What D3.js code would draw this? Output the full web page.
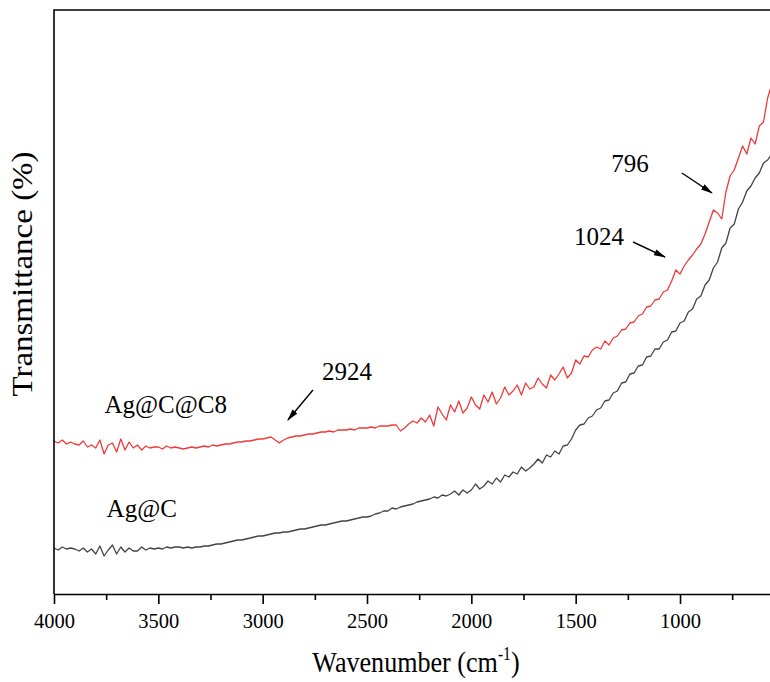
<!DOCTYPE html>
<html lang="en">
<head>
  <meta charset="UTF-8" />
  <title>FTIR spectra</title>
  <script src="https://d3js.org/d3.v7.min.js"></script>
  <style>
    html, body { margin: 0; background: #fff; }
    svg { display: block; font-family: "Liberation Serif", "Times New Roman", serif; }
    .frame { stroke: #000; stroke-width: 1.6px; fill: none; }
    .axis path, .axis line { stroke: #000; stroke-width: 1.6px; }
    .axis text { font-size: 20.5px; fill: #000; font-family: "Liberation Serif", serif; }
    .spec { fill: none; stroke-width: 1.3px; stroke-linejoin: round; }
    .note { font-size: 25px; fill: #000; }
  </style>
</head>
<body>
  <svg id="chart" width="770" height="682"></svg>

  <script>
    // ----- data -----
    const wavenumber = [
      4000, 3980, 3960, 3940, 3920, 3900, 3880, 3860, 3840, 3820,
      3800, 3780, 3760, 3740, 3720, 3700, 3680, 3660, 3640, 3620,
      3600, 3580, 3560, 3540, 3520, 3500, 3480, 3460, 3440, 3420,
      3400, 3380, 3360, 3340, 3320, 3300, 3280, 3260, 3240, 3220,
      3200, 3180, 3160, 3140, 3120, 3100, 3080, 3060, 3040, 3020,
      3000, 2980, 2960, 2940, 2920, 2900, 2880, 2860, 2840, 2820,
      2800, 2780, 2760, 2740, 2720, 2700, 2680, 2660, 2640, 2620,
      2600, 2580, 2560, 2540, 2520, 2500, 2480, 2460, 2440, 2420,
      2400, 2380, 2360, 2340, 2320, 2300, 2280, 2260, 2240, 2220,
      2200, 2180, 2160, 2140, 2120, 2100, 2080, 2060, 2040, 2020,
      2000, 1980, 1960, 1940, 1920, 1900, 1880, 1860, 1840, 1820,
      1800, 1780, 1760, 1740, 1720, 1700, 1680, 1660, 1640, 1620,
      1600, 1580, 1560, 1540, 1520, 1500, 1480, 1460, 1440, 1420,
      1400, 1380, 1360, 1340, 1320, 1300, 1280, 1260, 1240, 1220,
      1200, 1180, 1160, 1140, 1120, 1100, 1080, 1060, 1040, 1020,
      1000, 980, 960, 940, 920, 900, 880, 860, 840, 820,
      800, 780, 760, 740, 720, 700, 680, 660, 640, 620,
      600, 580, 560
    ];

    // Ag@C@C8 (red)
    const agcc8 = [
      15.3, 15.1, 15.4, 15.0, 15.2, 15.0, 14.9, 15.3, 14.7, 14.9,
      14.6, 15.4, 14.0, 14.9, 15.1, 14.2, 15.5, 14.4, 15.2, 14.6,
      14.9, 14.4, 14.8, 14.6, 14.7, 14.7, 14.5, 14.8, 14.6, 14.7,
      14.6, 14.5, 14.6, 14.7, 14.6, 14.7, 14.8, 14.7, 14.9, 14.8,
      14.9, 15.0, 15.0, 15.1, 15.2, 15.2, 15.3, 15.3, 15.4, 15.5,
      15.5, 15.6, 15.7, 15.4, 15.1, 15.4, 15.6, 15.7, 15.8, 15.8,
      15.9, 16.0, 16.0, 16.1, 16.2, 16.2, 16.3, 16.2, 16.4, 16.4,
      16.4, 16.5, 16.4, 16.6, 16.6, 16.6, 16.7, 16.6, 16.8, 16.8,
      16.8, 16.9, 16.9, 16.3, 16.6, 17.0, 17.3, 17.1, 17.6, 17.2,
      17.9, 16.8, 18.7, 18.0, 17.4, 18.9, 18.2, 19.3, 18.1, 18.6,
      19.7, 18.9, 18.5, 19.9, 19.2, 20.2, 19.0, 19.6, 20.7, 19.9,
      20.3, 20.9, 19.9, 21.1, 20.5, 20.7, 21.6, 21.0, 20.6, 21.9,
      21.4, 22.0, 22.7, 21.6, 22.1, 23.4, 23.0, 23.8, 23.7, 24.4,
      24.7, 24.5, 25.3, 24.9, 25.6, 25.8, 26.4, 26.5, 27.1, 27.2,
      27.8, 28.0, 28.7, 28.8, 29.4, 29.5, 30.2, 30.4, 31.3, 32.4,
      32.0, 32.8, 33.4, 33.9, 34.5, 35.0, 36.0, 37.2, 38.4, 38.1,
      37.5, 40.2, 41.8, 42.4, 43.6, 44.8, 44.0, 45.6, 45.0, 46.8,
      47.2, 49.6, 51.0
    ];

    // Ag@C (dark grey)
    const agc = [
      4.6, 4.4, 4.7, 4.5, 4.6, 4.5, 4.3, 4.6, 4.2, 4.5,
      4.0, 4.8, 3.8, 4.4, 4.9, 4.0, 4.7, 4.2, 4.6, 4.3,
      4.3, 4.7, 4.4, 4.6, 4.5, 4.6, 4.5, 4.7, 4.6, 4.7,
      4.7, 4.6, 4.7, 4.6, 4.7, 4.7, 4.8, 4.8, 4.9, 5.0,
      5.0, 5.1, 5.2, 5.3, 5.4, 5.4, 5.5, 5.6, 5.7, 5.8,
      5.8, 5.9, 6.0, 6.1, 6.1, 6.2, 6.2, 6.3, 6.4, 6.5,
      6.5, 6.6, 6.7, 6.8, 6.9, 6.9, 7.0, 7.1, 7.2, 7.3,
      7.3, 7.4, 7.5, 7.6, 7.7, 7.7, 7.8, 8.0, 8.1, 8.3,
      8.3, 8.6, 8.5, 8.7, 8.8, 8.9, 9.0, 9.2, 9.3, 9.4,
      9.5, 9.7, 9.6, 9.9, 9.8, 10.0, 10.3, 9.9, 10.4, 10.1,
      10.4, 11.0, 10.5, 10.8, 11.3, 11.0, 11.6, 11.2, 11.9, 11.7,
      12.2, 12.0, 12.7, 12.3, 12.6, 13.0, 13.5, 13.1, 13.9, 13.7,
      14.3, 14.0, 14.8, 14.9, 15.5, 16.4, 16.9, 17.0, 17.6, 17.8,
      18.4, 18.6, 19.3, 19.4, 20.1, 20.3, 21.1, 21.2, 22.0, 22.1,
      22.8, 22.9, 23.7, 23.8, 24.5, 24.5, 25.2, 25.4, 26.2, 26.3,
      27.1, 27.3, 28.2, 28.5, 29.5, 29.8, 30.9, 31.4, 32.6, 33.2,
      34.6, 35.1, 36.6, 37.0, 38.5, 39.2, 40.3, 40.8, 41.6, 42.1,
      43.1, 43.4, 44.0
    ];

    const majorTicks = [4000, 3500, 3000, 2500, 2000, 1500, 1000];
    const minorTicks = [3750, 3250, 2750, 2250, 1750, 1250, 750];

    // series labels: text, anchor wavenumber, value
    const seriesLabels = [
      {text: 'Ag@C@C8', w: 3758, v: 18.1},
      {text: 'Ag@C',    w: 3748, v: 7.7}
    ];

    // peak notes: label position and arrow tail -> tip
    const peakNotes = [
      {text: '2924', w: 2596, v: 21.4, tw: 2759, tv: 20.4, hw: 2879, hv: 17.4},
      {text: '1024', w: 1388, v: 34.9, tw: 1225, tv: 35.2, hw: 1072, hv: 33.7},
      {text: '796',  w: 1240, v: 42.2, tw: 991,  tv: 42.1, hw: 847,  hv: 40.1}
    ];

    // ----- layout -----
    const svg = d3.select('#chart');
    const marginLeft = 54, marginTop = 10, axisY = 594;

    const x = d3.scaleLinear().domain([4000, 400]).range([marginLeft, marginLeft + 3600 * 0.20867]);
    const y = d3.scaleLinear().domain([0, 58.4]).range([axisY, marginTop]);

    // arrow head
    svg.append('defs').append('marker')
      .attr('id', 'head')
      .attr('viewBox', '0 0 12 8')
      .attr('refX', 11).attr('refY', 4)
      .attr('markerWidth', 12).attr('markerHeight', 8)
      .attr('markerUnits', 'userSpaceOnUse')
      .attr('orient', 'auto')
      .append('path')
        .attr('d', 'M0,0.8 L12,4 L0,7.2 Z')
        .attr('fill', '#000');

    // spectra
    const line = d3.line()
      .x((d, i) => x(wavenumber[i]))
      .y(d => y(d));

    svg.append('path').datum(agc)
      .attr('class', 'spec')
      .attr('stroke', '#444')
      .attr('d', line);

    svg.append('path').datum(agcc8)
      .attr('class', 'spec')
      .attr('stroke', '#ee3a3a')
      .attr('d', line);

    // frame (left + top)
    svg.append('path')
      .attr('class', 'frame')
      .attr('d', `M${x(400)},${marginTop} H${marginLeft} V${axisY}`);

    // bottom axis, major ticks with labels
    svg.append('g')
      .attr('class', 'axis')
      .attr('transform', `translate(0,${axisY})`)
      .call(d3.axisBottom(x).tickValues(majorTicks).tickSize(10).tickSizeOuter(0)
        .tickPadding(9).tickFormat(d3.format('d')));

    // minor ticks
    svg.append('g')
      .attr('class', 'axis')
      .attr('transform', `translate(0,${axisY})`)
      .call(d3.axisBottom(x).tickValues(minorTicks).tickSize(6).tickSizeOuter(0).tickFormat(''))
      .call(g => g.select('.domain').remove());

    // axis titles (the original lettering is a little narrow, hence the squeeze)
    const xt = svg.append('text')
      .attr('transform', 'translate(416,672) scale(0.87,1)')
      .attr('font-size', 30)
      .attr('text-anchor', 'middle');
    xt.append('tspan').text('Wavenumber (cm');
    xt.append('tspan').attr('font-size', 18).attr('dy', -12).text('-1');
    xt.append('tspan').attr('dy', 12).text(')');

    svg.append('text')
      .attr('transform', 'translate(32,274) rotate(-90) scale(1,0.87)')
      .attr('font-size', 33)
      .attr('text-anchor', 'middle')
      .text('Transmittance (%)');

    // series labels
    svg.selectAll('.slabel')
      .data(seriesLabels)
      .enter().append('text')
        .attr('class', 'note slabel')
        .attr('font-size', 26)
        .attr('x', d => x(d.w))
        .attr('y', d => y(d.v))
        .text(d => d.text);

    // peak notes
    svg.selectAll('.plabel')
      .data(peakNotes)
      .enter().append('text')
        .attr('class', 'note plabel')
        .attr('x', d => x(d.w))
        .attr('y', d => y(d.v))
        .attr('text-anchor', 'middle')
        .text(d => d.text);

    svg.selectAll('.arrow')
      .data(peakNotes)
      .enter().append('line')
        .attr('class', 'arrow')
        .attr('x1', d => x(d.tw)).attr('y1', d => y(d.tv))
        .attr('x2', d => x(d.hw)).attr('y2', d => y(d.hv))
        .attr('stroke', '#000')
        .attr('stroke-width', 1.4)
        .attr('marker-end', 'url(#head)');
  </script>
</body>
</html>
